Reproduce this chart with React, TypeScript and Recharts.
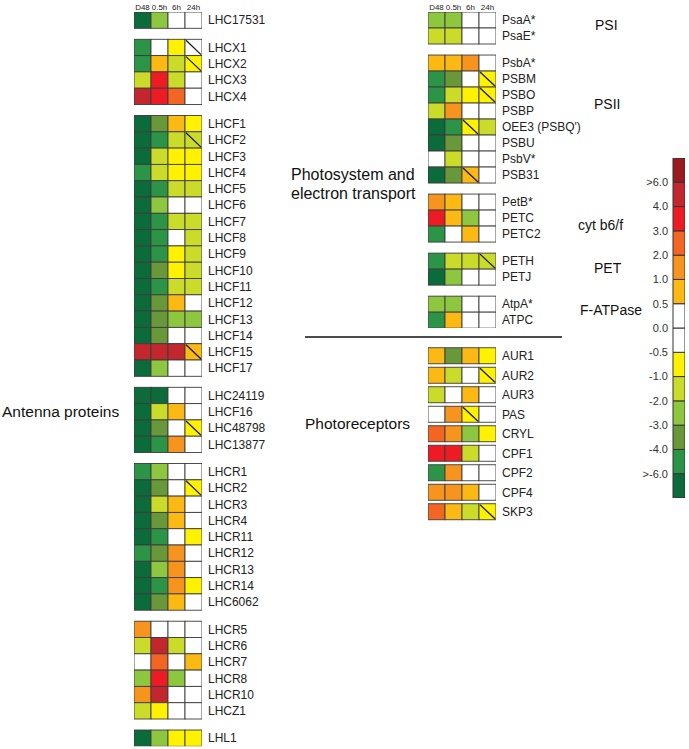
import React from 'react';
import { ScatterChart, Scatter, XAxis, YAxis, BarChart, Bar } from 'recharts';

// ---------- colours (bins of the legend) ----------
const DG = '#0b6b3a';
const GR = '#2b9447';
const OL = '#68983a';
const LG = '#8dc63f';
const YG = '#cbdb2a';
const YE = '#fff200';
const WH = '#ffffff';
const AM = '#fdb913';
const OR = '#f7941d';
const RO = '#f26522';
const RE = '#ed1c24';
const CR = '#c1272d';
const DR = '#991b1e';

const binEdges = [-6, -4, -3, -2, -1, -0.5, 0.5, 1, 2, 3, 4, 6];
const binColors = [DG, GR, OL, LG, YG, YE, WH, AM, OR, RO, RE, CR, DR];

const legendColors = [DG, GR, OL, LG, YG, YE, WH, WH, AM, OR, RO, RE, CR, DR];
const legendLabels = ['>-6.0', '-4.0', '-3.0', '-2.0', '-1.0', '-0.5', '0.0', '0.5', '1.0', '2.0', '3.0', '4.0', '>6.0'];

const timePoints = ['D48', '0.5h', '6h', '24h'];

// ---------- antenna proteins ----------
const lhc17531Names = ['LHC17531'];
const lhc17531Values = [[-7, -2.5, 0, 0]];
const lhc17531Slash = [-1];

const lhcxNames = ['LHCX1', 'LHCX2', 'LHCX3', 'LHCX4'];
const lhcxValues = [
  [-5, 0, -0.75, 0],
  [-5, 0.75, -1.5, -0.75],
  [-1.5, 3.5, -1.5, 0],
  [5, 3.5, 2.5, 0],
];
const lhcxSlash = [3, 3, -1, -1];

const lhcfNames = ['LHCF1', 'LHCF2', 'LHCF3', 'LHCF4', 'LHCF5', 'LHCF6', 'LHCF7', 'LHCF8', 'LHCF9', 'LHCF10', 'LHCF11', 'LHCF12', 'LHCF13', 'LHCF14', 'LHCF15', 'LHCF17'];
const lhcfValues = [
  [-7, -3.5, 0.75, -0.75],
  [-7, -5, -1.5, -1.5],
  [-7, -1.5, -0.75, -0.75],
  [-5, -1.5, -0.75, -0.75],
  [-7, -5, -1.5, -1.5],
  [-7, -2.5, 0, 0],
  [-7, -5, -1.5, -1.5],
  [-7, -5, 0, -1.5],
  [-7, -5, -0.75, -1.5],
  [-7, -3.5, -0.75, -1.5],
  [-7, -5, -1.5, -1.5],
  [-7, -3.5, 0.75, 0],
  [-7, -3.5, -2.5, -2.5],
  [-7, -3.5, 0, 0],
  [5, 5, 5, 0.75],
  [-7, -2.5, 0, 0],
];
const lhcfSlash = [-1, 3, -1, -1, -1, -1, -1, -1, -1, -1, -1, -1, -1, -1, 3, -1];

const lhcMiscNames = ['LHC24119', 'LHCF16', 'LHC48798', 'LHC13877'];
const lhcMiscValues = [
  [-7, -7, 0, 0],
  [-7, -1.5, 0.75, 0],
  [-7, -3.5, 0, -0.75],
  [-7, -5, 1.5, 0],
];
const lhcMiscSlash = [-1, -1, 3, -1];

const lhcrNames = ['LHCR1', 'LHCR2', 'LHCR3', 'LHCR4', 'LHCR11', 'LHCR12', 'LHCR13', 'LHCR14', 'LHC6062'];
const lhcrValues = [
  [-5, -2.5, 0, 0],
  [-7, -3.5, 0, -0.75],
  [-7, -1.5, 0.75, 0],
  [-7, -3.5, 0.75, 0],
  [-7, -5, 0, -0.75],
  [-5, -3.5, 1.5, 0],
  [-7, -2.5, 1.5, 0],
  [-7, -5, 1.5, -0.75],
  [-7, -3.5, 0.75, 0],
];
const lhcrSlash = [-1, 3, -1, -1, -1, -1, -1, -1, -1];

const lhcr2Names = ['LHCR5', 'LHCR6', 'LHCR7', 'LHCR8', 'LHCR10', 'LHCZ1'];
const lhcr2Values = [
  [1.5, 0, 0, 0],
  [-1.5, 5, -1.5, 0],
  [0, 2.5, 0, 0.75],
  [-2.5, 3.5, -2.5, 0],
  [1.5, 5, 0, 0],
  [-1.5, -0.75, 0, 0],
];
const lhcr2Slash = [-1, -1, -1, -1, -1, -1];

const lhl1Names = ['LHL1'];
const lhl1Values = [[-7, -2.5, -0.75, -0.75]];
const lhl1Slash = [-1];

// ---------- photosystem and electron transport ----------
const psiNames = ['PsaA*', 'PsaE*'];
const psiValues = [
  [-2.5, -2.5, 0, 0],
  [-1.5, -1.5, 0, 0],
];
const psiSlash = [-1, -1];

const psiiNames = ['PsbA*', 'PSBM', 'PSBO', 'PSBP', "OEE3 (PSBQ')", 'PSBU', 'PsbV*', 'PSB31'];
const psiiValues = [
  [0.75, 0.75, 1.5, 0],
  [-5, -3.5, 0, -0.75],
  [-5, -1.5, -0.75, -0.75],
  [-1.5, 1.5, 0, 0],
  [-7, -5, -0.75, -1.5],
  [-7, -3.5, 0, 0],
  [0, -1.5, 0, 0],
  [-7, -3.5, 0.75, 0],
];
const psiiSlash = [-1, 3, 3, -1, 2, -1, -1, 2];

const cytNames = ['PetB*', 'PETC', 'PETC2'];
const cytValues = [
  [1.5, 0.75, 0, 0],
  [3.5, 0.75, -2.5, 0],
  [-5, 0, 0.75, 0],
];
const cytSlash = [-1, -1, -1];

const petNames = ['PETH', 'PETJ'];
const petValues = [
  [-5, -1.5, -1.5, -1.5],
  [-7, -2.5, 0, 0],
];
const petSlash = [3, -1];

const atpNames = ['AtpA*', 'ATPC'];
const atpValues = [
  [-2.5, -2.5, 0, 0],
  [-5, 0.75, 0, 0],
];
const atpSlash = [-1, -1];

// ---------- photoreceptors ----------
const photoNames = ['AUR1', 'AUR2', 'AUR3', 'PAS', 'CRYL', 'CPF1', 'CPF2', 'CPF4', 'SKP3'];
const photoValues = [
  [0.75, -3.5, 0.75, -0.75],
  [0.75, -1.5, 0, -0.75],
  [-1.5, 0, 0.75, 0],
  [0, 1.5, -0.75, 0],
  [2.5, 1.5, -2.5, -0.75],
  [3.5, 3.5, -1.5, 0],
  [-5, 1.5, 0, 0],
  [1.5, 1.5, 0.75, 0],
  [2.5, 0.75, -1.5, -0.75],
];
const photoSlash = [-1, 3, -1, 2, -1, -1, -1, -1, 3];

// ---------- helpers ----------
type Group = { names: string[]; values: number[][]; slash: number[] };
type Pt = { x: number; y: number; v: number; slash: boolean };

function colorFor(v: number): string {
  let i = 0;
  while (i < binEdges.length && v >= binEdges[i]) i++;
  return binColors[i];
}

function build(groups: Group[], gap: number) {
  const pts: Pt[] = [];
  const ticks: number[] = [];
  const names: Record<string, string> = {};
  let pos = 0;
  groups.forEach((g, gi) => {
    if (gi > 0) pos += gap;
    g.names.forEach((n, ri) => {
      const p = Math.round(pos * 1000) / 1000;
      ticks.push(p);
      names[String(p)] = n;
      g.values[ri].forEach((v, c) => pts.push({ x: c, y: p, v, slash: g.slash[ri] === c }));
      pos += 1;
    });
  });
  return { pts, ticks, names, last: Math.round((pos - 1) * 1000) / 1000 };
}

const FONT = '"Liberation Sans", Arial, sans-serif';
const CELL_W = 17;

function Heatmap(props: {
  groups: Group[];
  gap: number;
  left: number;
  plotTop: number;
  rowH: number;
  cellH: number;
  header: boolean;
}) {
  const { groups, gap, left, plotTop, rowH, cellH, header } = props;
  const { pts, ticks, names, last } = build(groups, gap);
  const headerH = header ? 12 : 0;
  const plotH = (last + 1) * rowH;
  const labelW = 110;
  const width = 4 * CELL_W + labelW;
  const height = headerH + plotH;
  const shape = (p: any) => {
    const { cx, cy, payload } = p;
    const x0 = cx - CELL_W / 2;
    const y0 = cy - cellH / 2;
    return (
      <g>
        <rect x={x0} y={y0} width={CELL_W} height={cellH} fill={colorFor(payload.v)} stroke="#3c3c3c" strokeWidth={0.9} />
        {payload.slash ? (
          <line x1={x0 + 1} y1={y0 + 1} x2={x0 + CELL_W - 1} y2={y0 + cellH - 1} stroke="#1a1a1a" strokeWidth={1.3} />
        ) : null}
      </g>
    );
  };
  return (
    <div style={{ position: 'absolute', left, top: plotTop - headerH }}>
      <ScatterChart width={width} height={height} margin={{ top: 0, right: 0, bottom: 0, left: 0 }}>
        <XAxis
          type="number"
          dataKey="x"
          domain={[-0.5, 3.5]}
          allowDataOverflow
          ticks={[0, 1, 2, 3]}
          interval={0}
          orientation="top"
          height={headerH}
          hide={!header}
          tickFormatter={(v: number) => timePoints[v]}
          tick={{ fontSize: 8, fill: '#222', fontFamily: FONT }}
          tickLine={false}
          axisLine={false}
          tickSize={0}
          tickMargin={2}
        />
        <YAxis
          type="number"
          dataKey="y"
          domain={[-0.5, last + 0.5]}
          allowDataOverflow
          reversed
          ticks={ticks}
          interval={0}
          orientation="right"
          width={labelW}
          tickFormatter={(v: number) => names[String(v)]}
          tick={{ fontSize: 12, fill: '#222', fontFamily: FONT }}
          tickLine={false}
          axisLine={false}
          tickSize={0}
          tickMargin={6}
        />
        <Scatter data={pts} shape={shape} isAnimationActive={false} />
      </ScatterChart>
    </div>
  );
}

function ColorBar() {
  const row: Record<string, any> = { k: 'scale' };
  legendColors.forEach((_, i) => (row['s' + i] = 1));
  const axisW = 44;
  return (
    <div style={{ position: 'absolute', left: 673 - axisW, top: 158 }}>
      <BarChart width={axisW + 12} height={340} data={[row]} margin={{ top: 0, right: 0, bottom: 0, left: 0 }} barCategoryGap={0} barGap={0}>
        <XAxis dataKey="k" hide />
        <YAxis
          type="number"
          domain={[0, 14]}
          ticks={[1, 2, 3, 4, 5, 6, 7, 8, 9, 10, 11, 12, 13]}
          interval={0}
          width={axisW}
          tickFormatter={(v: number) => legendLabels[v - 1]}
          tick={{ fontSize: 11, fill: '#333', fontFamily: FONT }}
          tickLine={false}
          axisLine={false}
          tickSize={0}
          tickMargin={5}
        />
        {legendColors.map((c, i) => (
          <Bar key={i} dataKey={'s' + i} stackId="a" fill={c} stroke="#333" strokeWidth={1} isAnimationActive={false} />
        ))}
      </BarChart>
    </div>
  );
}

const antennaGroups: Group[] = [
  { names: lhc17531Names, values: lhc17531Values, slash: lhc17531Slash },
  { names: lhcxNames, values: lhcxValues, slash: lhcxSlash },
  { names: lhcfNames, values: lhcfValues, slash: lhcfSlash },
  { names: lhcMiscNames, values: lhcMiscValues, slash: lhcMiscSlash },
  { names: lhcrNames, values: lhcrValues, slash: lhcrSlash },
  { names: lhcr2Names, values: lhcr2Values, slash: lhcr2Slash },
  { names: lhl1Names, values: lhl1Values, slash: lhl1Slash },
];

const photosystemGroups: Group[] = [
  { names: psiNames, values: psiValues, slash: psiSlash },
  { names: psiiNames, values: psiiValues, slash: psiiSlash },
  { names: cytNames, values: cytValues, slash: cytSlash },
  { names: petNames, values: petValues, slash: petSlash },
  { names: atpNames, values: atpValues, slash: atpSlash },
];

const photoGroups: Group[] = [{ names: photoNames, values: photoValues, slash: photoSlash }];

export default function App() {
  const t = { fontFamily: FONT, fontSize: 15.5, fill: '#111' };
  const s = { fontFamily: FONT, fontSize: 14, fill: '#111' };
  return (
    <div style={{ position: 'absolute', left: 0, top: 0, width: 689, height: 749, background: '#fff', overflow: 'hidden' }}>
      <Heatmap groups={antennaGroups} gap={0.675} left={134} plotTop={12.3} rowH={16.3} cellH={16.3} header />
      <Heatmap groups={photosystemGroups} gap={0.69} left={428} plotTop={12.3} rowH={16} cellH={16} header />
      <Heatmap groups={photoGroups} gap={0} left={428} plotTop={346} rowH={19.5} cellH={16} header={false} />
      <ColorBar />
      <svg width={689} height={749} style={{ position: 'absolute', left: 0, top: 0, pointerEvents: 'none' }}>
        <text x={2} y={417} style={t}>Antenna proteins</text>
        <text x={291} y={180} style={{ ...t, fontSize: 16 }}>Photosystem and</text>
        <text x={291} y={199} style={{ ...t, fontSize: 16 }}>electron transport</text>
        <text x={305} y={429} style={t}>Photoreceptors</text>
        <text x={595} y={30} style={s}>PSI</text>
        <text x={594} y={109} style={s}>PSII</text>
        <text x={578} y={230} style={s}>cyt b6/f</text>
        <text x={594} y={273} style={s}>PET</text>
        <text x={580} y={315} style={s}>F-ATPase</text>
        <line x1={305} y1={337} x2={562} y2={337} stroke="#111" strokeWidth={1.5} />
      </svg>
    </div>
  );
}
